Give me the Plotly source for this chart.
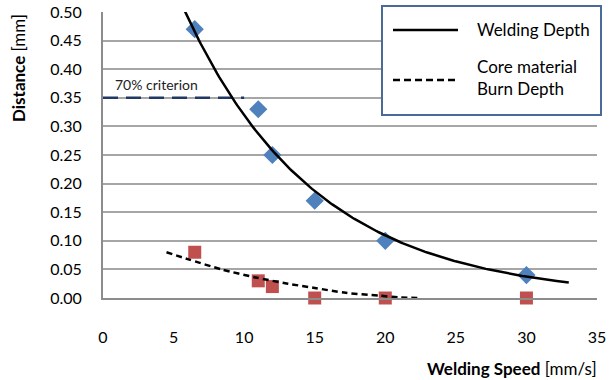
import numpy as np
import plotly.graph_objects as go

# ---- data ----
speed = [6.5, 11, 12, 15, 20, 30]
welding_depth = [0.47, 0.33, 0.25, 0.17, 0.10, 0.04]
burn_depth = [0.08, 0.03, 0.02, 0.00, 0.00, 0.00]
criterion_value = 0.35
criterion_speed = [0, 10]
x_ticks = [0, 5, 10, 15, 20, 25, 30, 35]
y_ticks = [0.00, 0.05, 0.10, 0.15, 0.20, 0.25, 0.30, 0.35, 0.40, 0.45, 0.50]

# burn-depth trendline
burn_trend_x = [4.5, 6.0, 8.4, 10.8, 13.1, 14.9, 17.2, 19.6, 21.0, 22.4]
burn_trend_y = [0.080, 0.068, 0.050, 0.036, 0.025, 0.018, 0.009, 0.004, 0.001, 0.000]

# welding-depth exponential trendline (Excel-style fit, extended)
xs = np.array(speed, float)
b, lna = np.polyfit(xs, np.log(welding_depth), 1)
xw = np.linspace(4.5, 33, 200)
yw = np.exp(lna) * np.exp(b * xw)

FONT = "Lato"
L, R, T, B = 103, 12, 12, 82
W, H = 609, 380
PW, PH = W - L - R, H - T - B

def px(xp):
    return (xp - L) / PW

def py(yp):
    return (H - B - yp) / PH

fig = go.Figure()
fig.add_trace(go.Scatter(x=speed, y=welding_depth, mode="markers",
                         marker=dict(symbol="diamond", size=14, color="#4F81BD"),
                         showlegend=False, cliponaxis=False))
fig.add_trace(go.Scatter(x=speed, y=burn_depth, mode="markers",
                         marker=dict(symbol="square", size=13, color="#C0504D"),
                         showlegend=False, cliponaxis=False))
fig.add_trace(go.Scatter(x=criterion_speed, y=[criterion_value] * 2, mode="lines",
                         line=dict(color="#1F3864", width=2.5, dash="15px,8px"),
                         showlegend=False))
fig.add_trace(go.Scatter(x=xw, y=yw, mode="lines", line=dict(color="black", width=2.5),
                         showlegend=False))
fig.add_trace(go.Scatter(x=burn_trend_x, y=burn_trend_y, mode="lines",
                         line=dict(color="black", width=2.5, dash="6px,4px",
                                   shape="spline", smoothing=0.8),
                         showlegend=False))

fig.add_annotation(x=0.7, y=criterion_value, xref="x", yref="y", text="70% criterion",
                   showarrow=False, xanchor="left", yanchor="bottom", yshift=3,
                   font=dict(family=FONT, size=14, color="#222"))

# axis titles
fig.add_annotation(x=px(599), y=py(368), xref="paper", yref="paper",
                   text="<b>Welding Speed</b> [mm/s]", showarrow=False,
                   xanchor="right", yanchor="middle",
                   font=dict(family=FONT, size=17, color="black"))
fig.add_annotation(x=px(18), y=py(68), xref="paper", yref="paper",
                   text="<b>Distance</b> [mm]", showarrow=False, textangle=-90,
                   xanchor="center", yanchor="middle",
                   font=dict(family=FONT, size=17, color="black"))

# legend box
fig.add_shape(type="rect", xref="paper", yref="paper",
              x0=px(382), x1=px(601), y0=py(115), y1=py(6),
              line=dict(color="#4A6A9A", width=2), fillcolor="white", layer="above")
fig.add_shape(type="line", xref="paper", yref="paper",
              x0=px(393), x1=px(458), y0=py(30), y1=py(30),
              line=dict(color="black", width=2.5), layer="above")
fig.add_shape(type="line", xref="paper", yref="paper",
              x0=px(393), x1=px(458), y0=py(80), y1=py(80),
              line=dict(color="black", width=2.5, dash="7px,4px"), layer="above")
fig.add_annotation(x=px(475), y=py(30), xref="paper", yref="paper",
                   text="Welding Depth", showarrow=False, xanchor="left", yanchor="middle",
                   font=dict(family=FONT, size=17, color="black"))
fig.add_annotation(x=px(475), y=py(77), xref="paper", yref="paper",
                   text="Core material<br>Burn Depth", showarrow=False, xanchor="left",
                   yanchor="middle", align="left",
                   font=dict(family=FONT, size=17, color="black"))

fig.update_layout(
    width=W, height=H, margin=dict(l=L, r=R, t=T, b=B, autoexpand=False),
    paper_bgcolor="white", plot_bgcolor="white",
    font=dict(family=FONT, size=16, color="black"),
    xaxis=dict(range=[0, 35], tickvals=x_ticks, showgrid=False, showline=True,
               linecolor="#8c8c8c", linewidth=2, zeroline=False, ticks="",
               ticklabelstandoff=24, tickfont=dict(size=16), automargin=False),
    yaxis=dict(range=[0, 0.5], tickvals=y_ticks, tickformat=".2f", showgrid=True,
               gridcolor="#a6a6a6", gridwidth=1.5, showline=True, linecolor="#8c8c8c",
               linewidth=2, zeroline=False, ticks="", ticklabelstandoff=16,
               tickfont=dict(size=16), automargin=False),
)

fig.write_html("out.html", config={"displayModeBar": False},
               post_script="document.body.style.margin='0px';")
